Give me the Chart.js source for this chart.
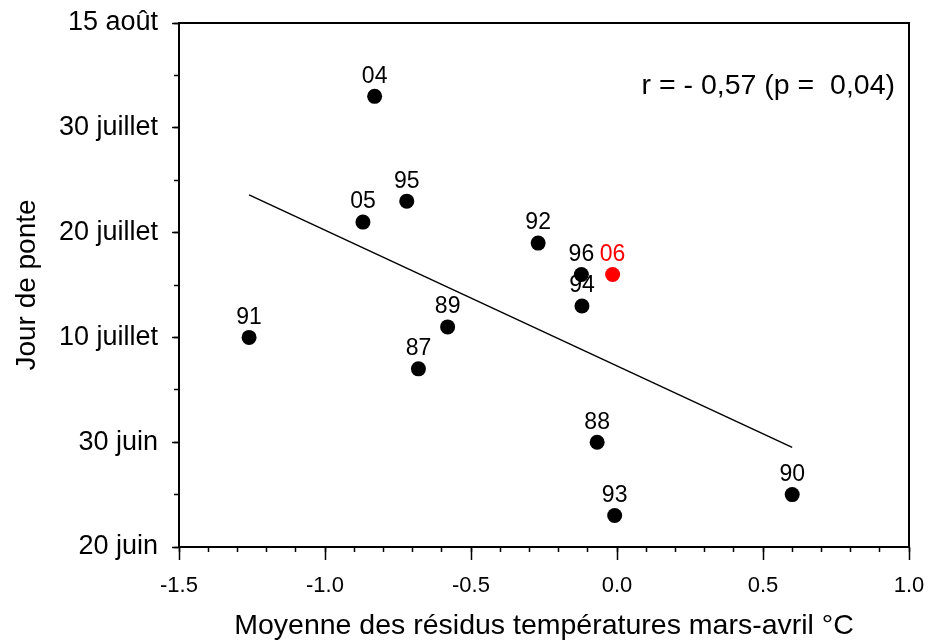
<!DOCTYPE html>
<html lang="fr">
<head>
<meta charset="utf-8">
<title>Jour de ponte</title>
<script src="https://cdn.jsdelivr.net/npm/chart.js@4/dist/chart.umd.min.js"></script>
<style>
    html, body { margin: 0; padding: 0; background: #fff; }
    #wrap { width: 928px; height: 642px; position: relative; }
</style>
</head>
<body>
<div id="wrap"><canvas id="graphePonte"></canvas></div>
<script>
// Données
const annees = ['04', '95', '05', '92', '96', '06', '94', '89', '91', '87', '88', '90', '93'];
const residus = [-0.83, -0.72, -0.87, -0.27, -0.122, -0.015, -0.12, -0.58, -1.26, -0.68, -0.068, 0.60, -0.008];
const jours = [43, 33, 31, 29, 26, 26, 23, 21, 20, 17, 10, 5, 3]; // jours après le 20 juin

// Droite de régression (extrémités lues)
const regX = [-1.26, 0.60];
const regY = [33.6, 9.5];

// Étiquettes des axes
const xTickLabels = ['-1.5', '-1.0', '-0.5', '0.0', '0.5', '1.0'];
const yTickLabels = ['20 juin', '30 juin', '10 juillet', '20 juillet', '30 juillet', '15 août'];
const texteCorrelation = 'r = - 0,57 (p =  0,04)';
const anneeEnRouge = '06';

const police = "'Liberation Sans', Arial, sans-serif";

// Pas de marge supplémentaire pour les étiquettes qui débordent
function sansMarge(s) {
    s.paddingTop = 0;
    s.paddingBottom = 0;
    s.paddingLeft = 0;
    s.paddingRight = 0;
}

// Étiquettes des années au-dessus des points + texte de corrélation + cadre
const pluginEtiquettes = {
    id: 'etiquettes',
    afterDatasetsDraw(chart) {
        const ctx = chart.ctx;
        const area = chart.chartArea;
        ctx.save();
        ctx.font = '23px ' + police;
        ctx.textAlign = 'center';
        ctx.textBaseline = 'middle';
        chart.getDatasetMeta(0).data.forEach(function(pt, i) {
            ctx.fillStyle = annees[i] === anneeEnRouge ? '#ff0000' : '#000';
            ctx.fillText(annees[i], pt.x, pt.y - 20);
        });
        ctx.font = '28.5px ' + police;
        ctx.textAlign = 'right';
        ctx.fillStyle = '#000';
        ctx.fillText(texteCorrelation, area.right - 14, area.top + 63);
        // cadre
        ctx.strokeStyle = '#000';
        ctx.lineWidth = 2;
        ctx.strokeRect(area.left, area.top, area.right - area.left, area.bottom - area.top);
        ctx.restore();
    }
};

const ctx = document.getElementById('graphePonte').getContext('2d');
window.graphePonte = new Chart(ctx, {
    type: 'scatter',
    data: {
        datasets: [
            {
                label: 'Années',
                data: residus.map((x, i) => ({ x: x, y: jours[i] })),
                backgroundColor: c => annees[c.dataIndex] === anneeEnRouge ? '#ff0000' : '#000',
                borderWidth: 0,
                pointRadius: 7.5,
                pointHoverRadius: 7.5
            },
            {
                type: 'line',
                label: 'Régression',
                data: regX.map((x, i) => ({ x: x, y: regY[i] })),
                borderColor: '#000',
                borderWidth: 1.5,
                pointRadius: 0,
                fill: false
            }
        ]
    },
    options: {
        responsive: true,
        maintainAspectRatio: false,
        animation: false,
        layout: { padding: { top: 23, right: 19, bottom: 0, left: 0 } },
        plugins: {
            legend: { display: false },
            tooltip: { enabled: false }
        },
        scales: {
            x: {
                type: 'linear',
                position: 'bottom',
                weight: 1,
                min: -1.5,
                max: 1.0,
                ticks: {
                    stepSize: 0.5,
                    padding: 13,
                    color: '#000',
                    font: { family: police, size: 22 },
                    callback: (v, i) => xTickLabels[i]
                },
                grid: { drawOnChartArea: false, tickLength: 13, tickWidth: 1.5, tickColor: '#000' },
                border: { color: '#000', width: 2 },
                title: {
                    display: true,
                    text: 'Moyenne des résidus températures mars-avril °C',
                    color: '#000',
                    font: { family: police, size: 28.5, lineHeight: 1.1 },
                    padding: { top: 0, bottom: 0 }
                },
                afterFit: s => { s.height = 95; sansMarge(s); }
            },
            xMineur: {
                type: 'linear',
                position: 'bottom',
                weight: 0,
                min: -1.5,
                max: 1.0,
                ticks: { display: false, stepSize: 0.1 },
                grid: { drawOnChartArea: false, tickLength: 5, tickWidth: 1.5, tickColor: '#000' },
                border: { display: false },
                afterFit: s => { s.height = 0; sansMarge(s); }
            },
            y: {
                type: 'linear',
                position: 'left',
                weight: 1,
                min: 0,
                max: 50,
                ticks: {
                    stepSize: 10,
                    padding: 14,
                    color: '#000',
                    font: { family: police, size: 27 },
                    callback: (v, i) => yTickLabels[i]
                },
                grid: { drawOnChartArea: false, tickLength: 7, tickWidth: 1.5, tickColor: '#000' },
                border: { color: '#000', width: 2 },
                title: {
                    display: true,
                    text: 'Jour de ponte',
                    color: '#000',
                    font: { family: police, size: 28, lineHeight: 1.1 },
                    padding: { top: 12, bottom: 0 }
                },
                afterFit: s => { s.width = 179; sansMarge(s); }
            },
            yMineur: {
                type: 'linear',
                position: 'left',
                weight: 0,
                min: 0,
                max: 50,
                ticks: { display: false, stepSize: 5 },
                grid: { drawOnChartArea: false, tickLength: 5, tickWidth: 1.5, tickColor: '#000' },
                border: { display: false },
                afterFit: s => { s.width = 0; sansMarge(s); }
            }
        }
    },
    plugins: [pluginEtiquettes]
});
</script>
</body>
</html>
